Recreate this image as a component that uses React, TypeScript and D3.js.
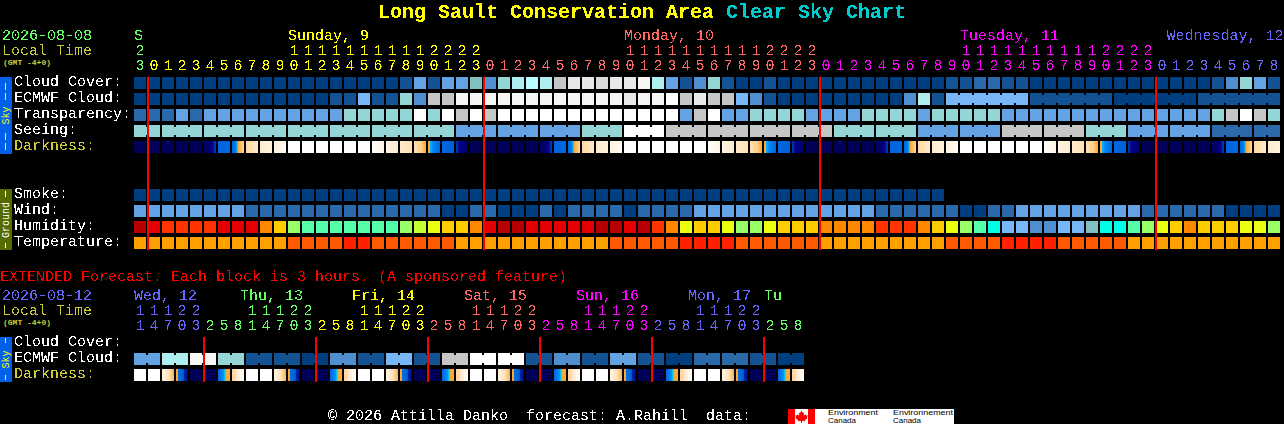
import React from 'react';
import { useRef, useEffect } from 'react';
import * as d3 from 'd3';

// block colour levels used by cloud, transparency, seeing, wind
const skyPalette = ['#003f7f', '#135393', '#2a6aaa', '#4f8fcf', '#63a3e3', '#77b7f7', '#81c0c0', '#94d6d6', '#aeeeee', '#b8ffff', '#c6c6c6', '#dadada', '#e8e8e8', '#f6f6f6', '#ffffff'];
const humidityPalette = ['#b80000', '#e40000', '#ff3300', '#ff8800', '#ffcc00', '#eaff11', '#99ff66', '#55ffaa', '#00ffe6', '#81c0c0', '#77b7f7', '#4f8fcf', '#c4ff33'];
const temperaturePalette = ['#ff9f00', '#ff5a00', '#ff2000'];

const hourLabels = ['3', '0', '1', '2', '3', '4', '5', '6', '7', '8', '9', '0', '1', '2', '3', '4', '5', '6', '7', '8', '9', '0', '1', '2', '3',
  '0', '1', '2', '3', '4', '5', '6', '7', '8', '9', '0', '1', '2', '3', '4', '5', '6', '7', '8', '9', '0', '1', '2', '3',
  '0', '1', '2', '3', '4', '5', '6', '7', '8', '9', '0', '1', '2', '3', '4', '5', '6', '7', '8', '9', '0', '1', '2', '3',
  '0', '1', '2', '3', '4', '5', '6', '7', '8'];
const tensLabels = ['2', '', '', '', '', '', '', '', '', '', '', '1', '1', '1', '1', '1', '1', '1', '1', '1', '1', '2', '2', '2', '2',
  '', '', '', '', '', '', '', '', '', '', '1', '1', '1', '1', '1', '1', '1', '1', '1', '1', '2', '2', '2', '2',
  '', '', '', '', '', '', '', '', '', '', '1', '1', '1', '1', '1', '1', '1', '1', '1', '1', '2', '2', '2', '2',
  '', '', '', '', '', '', '', '', ''];
const dayLabels = [
  { text: 'S', col: 0 }, { text: 'Sunday, 9', col: 11 }, { text: 'Monday, 10', col: 35 },
  { text: 'Tuesday, 11', col: 59 }, { text: 'Wednesday, 12', col: 73.75 },
];

const cloudCover = [
  0, 0, 0, 0, 0, 0, 0, 0, 0, 0,
  0, 0, 0, 0, 0, 0, 0, 0, 0, 1,
  4, 1, 4, 4, 6, 3, 7, 8, 9, 8,
  10, 12, 12, 11, 12, 12, 13, 8, 4, 1,
  3, 7, 1, 0, 0, 1, 0, 0, 0, 0,
  0, 0, 0, 0, 0, 0, 0, 0, 1, 1,
  2, 2, 1, 1, 0, 0, 0, 0, 0, 0,
  0, 0, 0, 0, 0, 0, 0, 1, 3, 7,
  4, 1];
const ecmwfHourly = [
  0, 0, 0, 0, 0, 0, 0, 0, 0, 0,
  0, 0, 0, 0, 1, 1, 5, 1, 1, 7,
  3, 10, 10, 13, 13, 13, 13, 13, 13, 13,
  13, 13, 13, 13, 13, 12, 13, 13, 14, 10,
  12, 10, 10, 5, 3, 1, 0, 0, 0, 0,
  0, 0, 0, 0, 0, 3, 8, 1];
const ecmwfSixHourly = [5, 1, 0, 1];
const transparency = [
  2, 2, 2, 4, 2, 4, 4, 4, 4, 4,
  4, 4, 4, 4, 4, 7, 7, 7, 7, 7,
  14, 7, 14, 10, 14, 10, 14, 14, 14, 14,
  14, 14, 14, 14, 14, 14, 14, 14, 14, 4,
  10, 14, 4, 4, 7, 7, 7, 7, 4, 4,
  4, 4, 7, 7, 7, 7, 4, 7, 7, 7,
  7, 7, 4, 4, 4, 4, 4, 4, 4, 4,
  4, 4, 4, 4, 4, 4, 4, 7, 10, 14,
  10, 7];
const seeingBlocks = [
  7, 7, 7, 7, 7, 7, 7, 7, 4, 4, 4, 7, 14, 10, 10, 10, 10, 7, 7, 4, 4, 10, 10, 7, 4, 4, 2, 2];
const darkness = [
  'n', 'n', 'n', 'n', 'n', 'a', 'b', 'c', 'd', 'e', 'f', 'w', 'w', 'w', 'w', 'w', 'w', 'g', 'h', 'i', 'j', 'k', 'l', 'm',
  'n', 'n', 'n', 'n', 'n', 'a', 'b', 'c', 'd', 'e', 'f', 'w', 'w', 'w', 'w', 'w', 'w', 'g', 'h', 'i', 'j', 'k', 'l', 'm',
  'n', 'n', 'n', 'n', 'n', 'a', 'b', 'c', 'd', 'e', 'f', 'w', 'w', 'w', 'w', 'w', 'w', 'g', 'h', 'i', 'j', 'k', 'l', 'm',
  'n', 'n', 'n', 'n', 'n', 'a', 'b', 'c', 'd', 'e'];
const smoke = [
  0, 0, 0, 0, 0, 0, 0, 0, 0, 0, 0, 0, 0, 0, 0, 0, 0, 0, 0, 0,
  0, 0, 0, 0, 0, 0, 0, 0, 0, 0, 0, 0, 0, 0, 0, 0, 0, 0, 0, 0,
  0, 0, 0, 0, 0, 0, 0, 0, 0, 0, 0, 0, 0, 0, 0, 0, 0, 0];
const wind = [
  4, 4, 4, 4, 4, 4, 4, 4, 2, 2,
  2, 2, 2, 2, 2, 2, 2, 2, 2, 2,
  2, 2, 0, 0, 2, 2, 0, 0, 0, 2,
  0, 2, 2, 2, 2, 0, 2, 2, 2, 2,
  4, 4, 4, 4, 4, 4, 4, 4, 4, 4,
  4, 4, 4, 2, 2, 2, 2, 2, 2, 0,
  0, 2, 2, 4, 4, 4, 4, 4, 4, 4,
  4, 4, 2, 2, 2, 2, 2, 2, 0, 0,
  0, 0];
const humidity = [
  0, 1, 2, 2, 2, 2, 1, 1, 1, 3,
  4, 6, 7, 7, 7, 7, 7, 7, 7, 6,
  12, 5, 4, 4, 3, 1, 0, 0, 1, 1,
  1, 1, 1, 0, 0, 1, 0, 2, 3, 5,
  4, 4, 5, 6, 6, 5, 4, 4, 4, 3,
  3, 3, 3, 2, 2, 2, 3, 4, 5, 6,
  7, 8, 10, 10, 11, 11, 10, 10, 9, 8,
  8, 7, 6, 5, 4, 3, 4, 4, 4, 5,
  5, 6];
const temperature = [
  0, 0, 0, 0, 0, 0, 0, 0, 0, 0,
  0, 1, 1, 1, 1, 2, 2, 1, 1, 1,
  1, 1, 1, 0, 0, 0, 0, 0, 0, 0,
  0, 0, 0, 0, 1, 1, 1, 1, 1, 2,
  2, 2, 2, 1, 1, 1, 1, 1, 1, 0,
  0, 0, 0, 0, 0, 0, 0, 0, 1, 1,
  1, 1, 2, 2, 2, 2, 1, 1, 1, 1,
  1, 0, 0, 0, 0, 0, 0, 0, 0, 0,
  0, 0];

// extended forecast
const extHourLabels = ['1', '4', '7', '0', '3',
  '2', '5', '8', '1', '4', '7', '0', '3', '2', '5', '8', '1', '4', '7', '0', '3',
  '2', '5', '8', '1', '4', '7', '0', '3', '2', '5', '8', '1', '4', '7', '0', '3',
  '2', '5', '8', '1', '4', '7', '0', '3', '2', '5', '8'];
const extTensLabels = ['1', '1', '1', '2', '2',
  '', '', '', '1', '1', '1', '2', '2', '', '', '', '1', '1', '1', '2', '2',
  '', '', '', '1', '1', '1', '2', '2', '', '', '', '1', '1', '1', '2', '2',
  '', '', '', '1', '1', '1', '2', '2', '', '', ''];
const extDayLabels = [
  { text: 'Wed, 12', x: 134 }, { text: 'Thu, 13', x: 240 }, { text: 'Fri, 14', x: 352 },
  { text: 'Sat, 15', x: 464 }, { text: 'Sun, 16', x: 576 }, { text: 'Mon, 17', x: 688 }, { text: 'Tu', x: 764 },
];
const extEcmwfBlocks = [4, 8, 13, 7, 1, 1, 0, 3, 1, 5, 1, 10, 14, 14, 1, 3, 1, 4, 1, 0, 2, 2, 1, 0];
const extDarkness = [
  'w', 'w', 's', 't', 'n', 'n', 'r', 'p',
  'w', 'w', 's', 't', 'n', 'n', 'r', 'p',
  'w', 'w', 's', 't', 'n', 'n', 'r', 'p',
  'w', 'w', 's', 't', 'n', 'n', 'r', 'p',
  'w', 'w', 's', 't', 'n', 'n', 'r', 'p',
  'w', 'w', 's', 't', 'n', 'n', 'r', 'p'];

// gradient stops of the darkness cells, left to right
const darknessStops: Record<string, [number, string][]> = {
  n: [[0, '#000058'], [1, '#000058']],
  a: [[0, '#000060'], [0.5, '#000070'], [0.7, '#000090'], [1, '#0044c0']],
  b: [[0, '#0066e0'], [1, '#0066e0']],
  c: [[0, '#0066e0'], [0.3, '#0080f0'], [0.42, '#00b0ff'], [0.5, '#ffa530'], [0.75, '#ffc060'], [1, '#ffd898']],
  d: [[0, '#ffd8a0'], [1, '#ffeccc']],
  e: [[0, '#ffeccc'], [1, '#fff4e0']],
  f: [[0, '#fff4e0'], [1, '#fffaf2']],
  w: [[0, '#ffffff'], [1, '#ffffff']],
  g: [[0, '#ffffff'], [1, '#fff4e4']],
  h: [[0, '#fff4e4'], [1, '#ffecd0']],
  i: [[0, '#ffecd0'], [1, '#ffe0b0']],
  j: [[0, '#ffe0b0'], [0.6, '#ffcf88'], [1, '#ffa530']],
  k: [[0, '#ffa530'], [0.16, '#ffa530'], [0.2, '#00b0ff'], [0.5, '#0080f0'], [1, '#0066e0']],
  l: [[0, '#0066e0'], [1, '#0060d8']],
  m: [[0, '#0040b0'], [0.3, '#000090'], [1, '#000060']],
  s: [[0, '#fff0e0'], [0.6, '#ffe0b8'], [1, '#ffb050']],
  t: [[0, '#ffa530'], [0.16, '#ffa530'], [0.2, '#0070e8'], [0.6, '#0060d8'], [0.72, '#0020a0'], [1, '#000070']],
  r: [[0, '#0066e0'], [0.45, '#0090ff'], [0.6, '#00e0e0'], [0.72, '#ffa530'], [1, '#ffa530']],
  p: [[0, '#ffd098'], [0.6, '#fff0dc'], [1, '#ffffff']],
};

const chartStyle = {
  width: 1284,
  height: 424,
  fontFamily: "'Liberation Mono', monospace",
  fontSize: 15,
  white: '#ffffff',
  olive: '#cccc33',
  green: '#66ff66',
  yellow: '#ffff00',
  salmon: '#ff6666',
  magenta: '#ff00ff',
  blue: '#6666ff',
  red: '#ff0000',
  cyan: '#00cccc',
  skyBox: '#0060e8',
  groundBox: '#556b00',
  cellSize: 12,
  notch: 2,
};

type Block = { start: number, len: number, fill: string };

// one block per level; len > 1 joins the cells with a narrow bridge
const toBlocks = (levels: number[], palette: string[], first = 0, len = 1): Block[] =>
  levels.map((d, i) => ({ start: first + i * len, len, fill: palette[d] }));

const App: React.FC = () => {

  const svgRef = useRef<SVGSVGElement>(null);

  useEffect(() => {

    if (!svgRef.current) return;

    const { width, height, cellSize, notch } = chartStyle;
    const svg = d3.select(svgRef.current);
    svg.selectAll('*').remove();

    const xMain = d3.scaleLinear().domain([0, 82]).range([134, 1282]);
    const xExt = d3.scaleLinear().domain([0, 48]).range([134, 806]);
    const rowMain = d3.scaleLinear().domain([0, 4]).range([77, 141]);
    const rowGround = d3.scaleLinear().domain([0, 3]).range([189, 237]);
    const rowExt = d3.scaleLinear().domain([0, 2]).range([337, 369]);

    const mainColor = d3.scaleThreshold<number, string>()
      .domain([1, 25, 49, 73])
      .range([chartStyle.green, chartStyle.yellow, chartStyle.salmon, chartStyle.magenta, chartStyle.blue]);
    const extColor = d3.scaleThreshold<number, string>()
      .domain([5, 13, 21, 29, 37, 45])
      .range([chartStyle.blue, chartStyle.green, chartStyle.yellow, chartStyle.salmon, chartStyle.magenta, chartStyle.blue, chartStyle.green]);

    const defs = svg.append('defs');
    const crisp = defs.append('filter').attr('id', 'crisp')
      .attr('filterUnits', 'userSpaceOnUse')
      .attr('x', 0).attr('y', 0).attr('width', width).attr('height', height);
    crisp.append('feComponentTransfer').append('feFuncA')
      .attr('type', 'discrete').attr('tableValues', '0 1');

    Object.entries(darknessStops).forEach(([key, stops]) => {
      const grad = defs.append('linearGradient').attr('id', `dark-${key}`);
      stops.forEach(([offset, color]) => {
        grad.append('stop').attr('offset', offset).attr('stop-color', color);
      });
    });

    svg.append('rect').attr('width', width).attr('height', height).attr('fill', '#000000');

    const drawBlocks = (blocks: Block[], x: d3.ScaleLinear<number, number>, y: number) => {
      const g = svg.append('g');
      blocks.forEach(b => {
        d3.range(b.len).forEach(k => {
          g.append('rect')
            .attr('x', x(b.start + k)).attr('y', y)
            .attr('width', cellSize).attr('height', cellSize)
            .attr('fill', b.fill);
          if (k < b.len - 1) {
            g.append('rect')
              .attr('x', x(b.start + k) + cellSize).attr('y', y + notch)
              .attr('width', x(1) - x(0) - cellSize).attr('height', cellSize - 2 * notch)
              .attr('fill', b.fill);
          }
        });
      });
    };

    const drawDarkness = (cells: string[], x: d3.ScaleLinear<number, number>, y: number) => {
      svg.append('g').selectAll('rect').data(cells).join('rect')
        .attr('x', (_, i) => x(i)).attr('y', y)
        .attr('width', cellSize).attr('height', cellSize)
        .attr('fill', d => `url(#dark-${d})`);
    };

    // main chart blocks
    drawBlocks(toBlocks(cloudCover, skyPalette), xMain, rowMain(0));
    drawBlocks(toBlocks(ecmwfHourly, skyPalette), xMain, rowMain(1));
    drawBlocks(toBlocks(ecmwfSixHourly, skyPalette, 58, 6), xMain, rowMain(1));
    drawBlocks(toBlocks(transparency, skyPalette), xMain, rowMain(2));
    drawBlocks(seeingBlocks.map((d, i) => ({
      start: i === 0 ? 0 : 3 * i - 1,
      len: i === 0 || i === seeingBlocks.length - 1 ? 2 : 3,
      fill: skyPalette[d],
    })), xMain, rowMain(3));
    drawDarkness(darkness, xMain, rowMain(4));

    drawBlocks(toBlocks(smoke, skyPalette), xMain, rowGround(0));
    drawBlocks(toBlocks(wind, skyPalette), xMain, rowGround(1));
    drawBlocks(toBlocks(humidity, humidityPalette), xMain, rowGround(2));
    drawBlocks(toBlocks(temperature, temperaturePalette), xMain, rowGround(3));

    // extended blocks
    drawBlocks(toBlocks(extEcmwfBlocks, skyPalette, 0, 2), xExt, rowExt(1));
    drawDarkness(extDarkness, xExt, rowExt(2));

    // midnight lines
    svg.append('g').selectAll('rect').data([1, 25, 49, 73]).join('rect')
      .attr('x', d => xMain(d) - 1).attr('y', 77)
      .attr('width', 2).attr('height', 173)
      .attr('fill', chartStyle.red);
    svg.append('g').selectAll('rect').data([5, 13, 21, 29, 37, 45]).join('rect')
      .attr('x', d => xExt(d) - 1).attr('y', 337)
      .attr('width', 2).attr('height', 45)
      .attr('fill', chartStyle.red);

    // side boxes
    const sideBox = (y0: number, y1: number, fill: string) => {
      svg.append('rect').attr('x', 0).attr('y', y0).attr('width', 12).attr('height', y1 - y0).attr('fill', fill);
    };
    sideBox(77, 154, chartStyle.skyBox);
    sideBox(189, 250, chartStyle.groundBox);
    sideBox(337, 382, chartStyle.skyBox);

    const sideDash = (y0: number, y1: number, color: string) => {
      svg.append('rect').attr('x', 5).attr('y', y0).attr('width', 1).attr('height', y1 - y0).attr('fill', color);
    };
    [[83, 90], [93, 100], [133, 140], [143, 150]].forEach(([a, b]) => sideDash(a, b, chartStyle.yellow));
    [[191, 197], [243, 248]].forEach(([a, b]) => sideDash(a, b, chartStyle.white));
    [[338, 343], [375, 380]].forEach(([a, b]) => sideDash(a, b, chartStyle.yellow));

    // the normal size text is hardened like the bitmap font, small text would break up
    const textLayer = svg.append('g')
      .attr('filter', 'url(#crisp)')
      .attr('font-family', chartStyle.fontFamily)
      .attr('font-size', chartStyle.fontSize);
    const smallLayer = svg.append('g')
      .attr('font-family', chartStyle.fontFamily);

    const label = (text: string, x: number, y: number, fill: string) =>
      textLayer.append('text').attr('x', x).attr('y', y).attr('fill', fill).text(text);

    const title = textLayer.append('text')
      .attr('x', 378).attr('y', 18)
      .attr('font-size', 20).attr('font-weight', 'bold');
    title.append('tspan').attr('fill', chartStyle.yellow).text('Long Sault Conservation Area ');
    title.append('tspan').attr('fill', chartStyle.cyan).text('Clear Sky Chart');

    const gmtLabel = (y: number) =>
      smallLayer.append('text').attr('x', 3).attr('y', y)
        .attr('font-size', 8).attr('font-weight', 'bold')
        .attr('fill', chartStyle.olive)
        .text('(GMT -4+0)');

    label('2026-08-08', 2, 40, chartStyle.green);
    label('Local Time', 2, 55, chartStyle.olive);
    gmtLabel(65);

    dayLabels.forEach(d => {
      label(d.text, xMain(d.col), 40, mainColor(d.col < 1 ? 0 : d.col));
    });

    const digits = (values: string[], x: d3.ScaleLinear<number, number>, y: number, color: d3.ScaleThreshold<number, string>) => {
      values.forEach((v, i) => {
        if (v === '') return;
        label(v, x(i) + cellSize / 2, y, color(i)).attr('text-anchor', 'middle');
      });
    };
    digits(tensLabels, xMain, 55, mainColor);
    digits(hourLabels, xMain, 70, mainColor);

    const mainRows = ['Cloud Cover:', 'ECMWF Cloud:', 'Transparency:', 'Seeing:', 'Darkness:'];
    mainRows.forEach((t, i) => {
      label(t, 14, rowMain(i) + 9, t === 'Darkness:' ? chartStyle.olive : chartStyle.white);
    });
    const groundRows = ['Smoke:', 'Wind:', 'Humidity:', 'Temperature:'];
    groundRows.forEach((t, i) => {
      label(t, 14, rowGround(i) + 9, chartStyle.white);
    });

    label('EXTENDED Forecast. Each block is 3 hours. (A sponsored feature)', 0, 281, chartStyle.red);
    label('2026-08-12', 2, 300, chartStyle.blue);
    label('Local Time', 2, 315, chartStyle.olive);
    gmtLabel(325);

    const extDayColors = [chartStyle.blue, chartStyle.green, chartStyle.yellow, chartStyle.salmon, chartStyle.magenta, chartStyle.blue, chartStyle.green];
    extDayLabels.forEach((d, i) => {
      label(d.text, d.x, 300, extDayColors[i]);
    });
    digits(extTensLabels, xExt, 315, extColor);
    digits(extHourLabels, xExt, 330, extColor);

    const extRows = ['Cloud Cover:', 'ECMWF Cloud:', 'Darkness:'];
    extRows.forEach((t, i) => {
      label(t, 14, rowExt(i) + 9, t === 'Darkness:' ? chartStyle.olive : chartStyle.white);
    });

    label('\u00a9 2026 Attilla Danko\u00a0\u00a0forecast: A.Rahill\u00a0\u00a0data:', 328, 420, chartStyle.white);

    const vertical = (text: string, y: number, fill: string) =>
      smallLayer.append('text')
        .attr('transform', `translate(9,${y}) rotate(-90)`)
        .attr('text-anchor', 'middle')
        .attr('font-size', 10)
        .attr('fill', fill)
        .text(text);
    vertical('Sky', 115.5, chartStyle.yellow);
    vertical('Ground', 220, chartStyle.white);
    vertical('Sky', 359.5, chartStyle.yellow);

    // Environment Canada logo, cut off by the page edge
    const logo = svg.append('g');
    logo.append('rect').attr('x', 788).attr('y', 409).attr('width', 166).attr('height', 15).attr('fill', '#ffffff');
    logo.append('rect').attr('x', 788).attr('y', 409).attr('width', 7).attr('height', 15).attr('fill', '#ff0000');
    logo.append('rect').attr('x', 808).attr('y', 409).attr('width', 7).attr('height', 15).attr('fill', '#ff0000');
    logo.append('path')
      .attr('d', 'M801.5 410.5l1.5 2.5 1-0.5-0.3 3 1.8-1.2 0.5 1.2 1.7-0.2-0.7 2 0.7 0.6-3 2.3 0.3 1-3-0.3v2h-1v-2l-3 0.3 0.3-1-3-2.3 0.7-0.6-0.7-2 1.7 0.2 0.5-1.2 1.8 1.2-0.3-3 1 0.5z')
      .attr('fill', '#ff0000');
    const logoText = logo.append('g')
      .attr('font-family', "'Liberation Sans', sans-serif")
      .attr('font-size', 8)
      .attr('fill', '#000000');
    [['Environment', 828, 415, 50], ['Canada', 828, 423, 28], ['Environnement', 893, 415, 60], ['Canada', 893, 423, 28]].forEach(([t, x, y, w]) => {
      logoText.append('text').attr('x', x).attr('y', y).attr('textLength', w).attr('lengthAdjust', 'spacingAndGlyphs').text(t as string);
    });

  }, []);

  return (
    <svg
      ref={svgRef}
      width={chartStyle.width}
      height={chartStyle.height}
      style={{ position: 'absolute', left: 0, top: 0, display: 'block' }}
    />
  );
};

export default App;
